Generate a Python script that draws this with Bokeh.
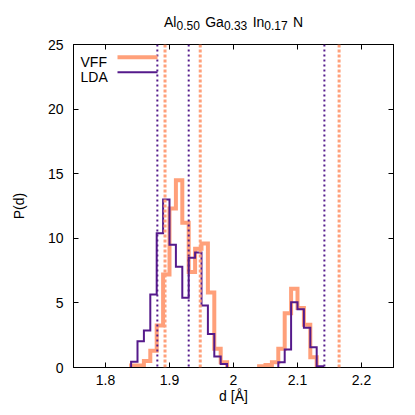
from bokeh.plotting import figure
from bokeh.layouts import column
from bokeh.models import Span, Label, Arrow, LinearAxis, FixedTicker, Range1d, Div
from bokeh.embed import file_html
from bokeh.resources import INLINE

# ---------------- data ----------------
bin_left = [1.84, 1.85, 1.86, 1.87, 1.88, 1.89, 1.90, 1.91, 1.92, 1.93,
            1.94, 1.95, 1.96, 1.97, 1.98, 1.99, 2.00, 2.01, 2.02, 2.03,
            2.04, 2.05, 2.06, 2.07, 2.08, 2.09, 2.10, 2.11, 2.12, 2.13, 2.14]
bin_width = 0.01
vff_p = [0.15, 0.15, 0.5, 1.3, 3.25, 7.2, 12.3, 14.5, 11.2, 7.4,
         9.2, 9.6, 5.8, 1.45, 0.4, 0, 0, 0, 0, 0,
         0.1, 0.2, 0.4, 1.45, 4.2, 6.1, 4.6, 3.3, 0.8, 0, 0]
lda_p = [0.45, 2.04, 2.86, 5.65, 10.4, 13.0, 9.5, 7.8, 5.4, 8.5,
         8.9, 4.8, 2.6, 0.85, 0.28, 0, 0, 0, 0, 0,
         0, 0, 0, 0.41, 1.4, 5.05, 4.5, 3.07, 1.57, 0.1, 0]
vff_ref = [1.893, 1.948, 2.165]
lda_ref = [1.881, 1.930, 2.142]
series_names = ["VFF", "LDA"]
x_ticks = [1.8, 1.9, 2.0, 2.1, 2.2]
x_tick_labels = ["1.8", "1.9", "2", "2.1", "2.2"]
y_ticks = [0, 5, 10, 15, 20, 25]
title_parts = [("Al", "0.50"), ("Ga", "0.33"), ("In", "0.17"), ("N", "")]

VFF_COLOR = "#ffa07a"
LDA_COLOR = "#551a8b"
FONT = "Liberation Sans"


def outline(lefts, vals, w):
    xs_all, ys_all = [], []
    xs, ys = [], []
    for l, v in zip(lefts, vals):
        if v > 0:
            if not xs:
                xs.append(l); ys.append(0)
            xs += [l, l + w]; ys += [v, v]
        elif xs:
            xs.append(xs[-1]); ys.append(0)
            xs_all.append(xs); ys_all.append(ys)
            xs, ys = [], []
    if xs:
        xs.append(xs[-1]); ys.append(0)
        xs_all.append(xs); ys_all.append(ys)
    return xs_all, ys_all


TITLE_H = 30
p = figure(width=415, height=415 - TITLE_H, x_range=Range1d(1.75, 2.25), y_range=Range1d(0, 25),
           output_backend="svg", toolbar_location=None,
           min_border_left=73, min_border_right=22, min_border_top=44 - TITLE_H, min_border_bottom=48,
           background_fill_color="white", border_fill_color="white")
p.xgrid.visible = False
p.ygrid.visible = False
p.outline_line_color = "black"
p.outline_line_width = 1
p.outline_line_alpha = 1

for ax in (p.xaxis[0], p.yaxis[0]):
    ax.major_tick_in = 5
    ax.major_tick_out = 0
    ax.minor_tick_line_color = None
    ax.axis_line_color = "black"
    ax.major_tick_line_color = "black"
    ax.major_label_text_font = FONT
    ax.major_label_text_font_size = "14px"
    ax.major_label_text_color = "black"
    ax.axis_label_text_font = FONT
    ax.axis_label_text_font_size = "14px"
    ax.axis_label_text_font_style = "normal"
    ax.axis_label_text_color = "black"

p.xaxis.ticker = FixedTicker(ticks=x_ticks)
p.xaxis.major_label_overrides = {t: s for t, s in zip(x_ticks, x_tick_labels)}
p.xaxis.axis_label = "d [Å]"
p.xaxis.major_label_standoff = 7
p.xaxis.axis_label_standoff = 0
p.yaxis.ticker = FixedTicker(ticks=y_ticks)
p.yaxis.axis_label = "P(d)"
p.yaxis.major_label_standoff = 10
p.yaxis.axis_label_standoff = 18

top_ax = LinearAxis(ticker=FixedTicker(ticks=x_ticks), major_label_text_font_size="1px",
                    major_label_text_color=None,
                    major_tick_in=5, major_tick_out=0, minor_tick_line_color=None,
                    major_label_standoff=0, axis_line_color="black")
right_ax = LinearAxis(ticker=FixedTicker(ticks=y_ticks), major_label_text_font_size="1px",
                      major_label_text_color=None,
                      major_tick_in=5, major_tick_out=0, minor_tick_line_color=None,
                      major_label_standoff=0, axis_line_color="black")
p.add_layout(top_ax, "above")
p.add_layout(right_ax, "right")

# histograms
vx, vy = outline(bin_left, vff_p, bin_width)
lx, ly = outline(bin_left, lda_p, bin_width)
p.multi_line(vx, vy, line_color=VFF_COLOR, line_width=4, line_join="miter")
p.multi_line(lx, ly, line_color=LDA_COLOR, line_width=2, line_join="miter")

# reference lines
for v in lda_ref:
    p.add_layout(Span(location=v, dimension="height", line_color=LDA_COLOR,
                      line_width=2, line_dash="2 3"))
for v in vff_ref:
    p.add_layout(Span(location=v, dimension="height", line_color=VFF_COLOR,
                      line_width=3, line_dash="3 2"))

# legend (text then sample, gnuplot style)
leg_y = [310.3, 295.3]
leg_colors = [VFF_COLOR, LDA_COLOR]
leg_widths = [4, 2]
for name, yy, c, w in zip(series_names, leg_y, leg_colors, leg_widths):
    p.add_layout(Label(x=7, y=yy - 5, x_units="screen", y_units="screen", text=name,
                       text_font=FONT, text_font_size="14px", text_color="black",
                       text_baseline="alphabetic", text_align="left"))
    p.add_layout(Arrow(end=None, x_start=44, y_start=yy, x_end=84, y_end=yy,
                       start_units="screen", end_units="screen",
                       line_color=c, line_width=w))

# title with subscripts
sub_style = "font-size:12px;position:relative;top:3px"
title_html = " ".join(
    f'{el}<span style="{sub_style}">{frac}</span>' if frac else el
    for el, frac in title_parts)
title = Div(text=f'<div style="font-family:\'{FONT}\';font-size:14px;line-height:16px;'
                 f'padding-top:14px;padding-left:164px;color:black;white-space:nowrap;'
                 f'word-spacing:1.5px">{title_html}</div>',
            width=415, height=TITLE_H, margin=(0, 0, 0, 0))

layout = column(title, p, spacing=0)
open("out.html", "w").write(file_html(layout, INLINE))
